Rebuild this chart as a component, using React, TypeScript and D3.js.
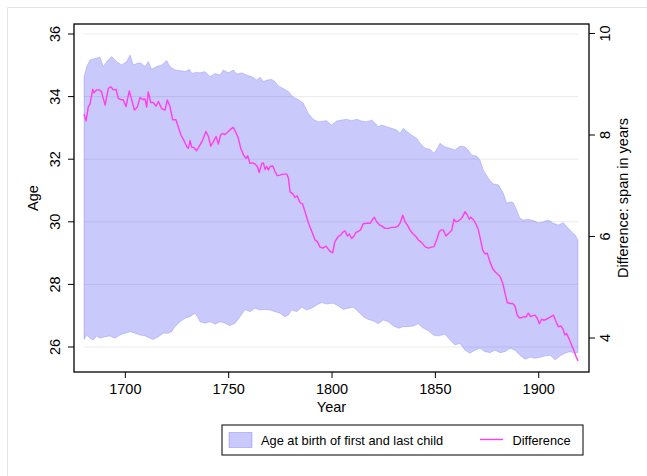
import React from "react";
import * as d3 from "d3";

const upperYears = [1680.0,1681.3,1682.9,1685.3,1687.7,1689.4,1691.0,1693.4,1695.8,1698.2,1700.6,1702.3,1703.9,1706.3,1707.9,1709.5,1711.1,1712.7,1715.2,1717.6,1720.0,1721.6,1724.0,1726.5,1728.9,1731.0,1732.1,1734.5,1736.1,1738.5,1741.0,1743.4,1745.8,1747.4,1749.8,1752.3,1753.9,1756.3,1758.7,1761.1,1763.5,1765.2,1766.8,1768.4,1770.8,1772.4,1774.0,1776.4,1778.9,1781.3,1783.7,1786.1,1788.5,1791.0,1793.4,1797.4,1799.8,1802.2,1804.7,1807.1,1809.5,1811.9,1814.3,1816.8,1819.2,1820.8,1822.4,1824.0,1826.4,1828.9,1831.3,1832.9,1834.5,1836.4,1838.5,1840.9,1842.6,1845.0,1847.4,1849.3,1851.4,1852.2,1854.6,1857.1,1859.5,1861.9,1864.3,1865.9,1867.6,1870.0,1871.6,1873.2,1875.6,1878.0,1880.5,1882.9,1884.5,1886.1,1887.7,1889.3,1890.9,1892.6,1895.0,1897.4,1899.8,1902.2,1904.6,1907.1,1909.5,1911.9,1913.5,1915.9,1917.6,1919.0];
const upperAge = [34.62,34.96,35.17,35.22,35.26,34.96,35.12,35.28,35.12,35.01,35.12,35.33,35.01,35.08,35.06,34.96,35.12,34.87,34.96,35.01,35.15,34.96,34.85,34.83,34.80,34.87,34.74,34.78,34.76,34.80,34.64,34.74,34.69,34.85,34.76,34.85,34.72,34.76,34.69,34.64,34.53,34.62,34.48,34.53,34.55,34.48,34.34,34.26,34.16,33.98,33.91,33.79,33.47,33.27,33.20,33.23,33.09,33.22,33.25,33.28,33.23,33.28,33.22,33.20,33.25,33.15,33.04,33.09,33.04,32.99,32.93,32.83,32.99,32.88,32.77,32.67,32.51,32.35,32.32,32.19,32.40,32.51,32.40,32.35,32.29,32.42,32.40,32.29,32.13,32.10,31.97,31.65,31.39,31.21,31.18,30.91,30.59,30.64,30.61,30.38,30.11,30.06,30.08,30.04,29.97,30.00,30.06,29.95,29.90,29.97,29.85,29.68,29.58,29.42];

const lowerYears = [1680.0,1681.3,1682.9,1684.5,1686.1,1687.7,1690.2,1692.6,1695.0,1697.4,1699.8,1702.3,1704.7,1707.1,1709.5,1711.9,1713.5,1716.0,1718.4,1720.8,1722.4,1724.0,1726.5,1728.9,1731.3,1733.7,1735.3,1736.1,1738.5,1741.0,1743.4,1745.8,1748.2,1750.6,1753.1,1755.5,1757.9,1760.3,1762.7,1765.2,1767.6,1770.0,1772.4,1774.8,1777.2,1778.9,1780.5,1782.9,1785.3,1787.7,1790.2,1792.6,1795.0,1797.4,1800.6,1803.0,1805.5,1807.9,1810.3,1812.7,1815.1,1817.6,1820.0,1822.4,1824.8,1827.2,1829.7,1832.1,1834.5,1836.9,1839.3,1841.7,1844.2,1846.6,1849.0,1851.4,1854.6,1857.1,1859.5,1861.9,1864.3,1866.7,1869.2,1871.6,1874.0,1876.4,1878.8,1881.3,1883.7,1886.1,1888.5,1890.9,1893.4,1895.8,1898.2,1900.6,1903.0,1905.5,1907.9,1910.3,1912.7,1915.1,1917.6,1919.0];
const lowerAge = [26.24,26.38,26.28,26.22,26.35,26.28,26.33,26.35,26.28,26.38,26.44,26.49,26.44,26.38,26.35,26.28,26.24,26.33,26.44,26.44,26.49,26.65,26.81,26.92,26.97,27.08,26.92,26.81,26.76,26.81,26.73,26.81,26.76,26.68,26.76,26.97,27.20,27.13,27.24,27.18,27.20,27.18,27.13,27.08,26.97,27.02,27.18,27.13,27.27,27.18,27.24,27.34,27.42,27.37,27.40,27.31,27.20,27.24,27.27,27.13,26.97,26.88,26.83,26.74,26.86,26.81,26.67,26.60,26.65,26.65,26.67,26.74,26.60,26.52,26.38,26.35,26.41,26.22,26.06,26.12,25.90,25.80,25.90,25.96,25.85,25.82,25.90,25.82,25.85,25.96,25.90,25.74,25.61,25.67,25.64,25.67,25.71,25.74,25.59,25.71,25.80,25.85,25.80,25.82];

const diffYears = [1680.0,1681.0,1682.1,1682.9,1684.2,1684.8,1686.1,1687.4,1688.5,1690.2,1691.8,1692.9,1694.2,1695.5,1696.6,1697.7,1699.0,1700.3,1701.9,1703.1,1704.4,1705.8,1707.1,1708.4,1709.5,1710.3,1711.1,1712.3,1713.5,1714.8,1716.0,1717.6,1719.2,1720.3,1721.6,1722.9,1724.5,1725.6,1726.9,1728.4,1729.7,1730.5,1731.3,1732.1,1733.2,1734.5,1735.8,1737.4,1739.0,1740.2,1741.3,1742.6,1743.9,1745.0,1746.1,1747.1,1748.2,1749.3,1750.6,1752.2,1753.5,1754.7,1755.8,1757.1,1758.4,1759.2,1760.3,1761.6,1762.7,1763.9,1764.8,1766.0,1766.8,1767.6,1768.4,1769.2,1770.0,1771.3,1772.4,1773.5,1774.8,1776.4,1778.1,1778.9,1779.7,1781.0,1782.1,1783.2,1784.5,1785.8,1786.9,1788.1,1789.3,1790.6,1791.8,1792.9,1794.2,1795.5,1797.1,1798.2,1799.3,1800.3,1801.4,1803.0,1804.2,1805.1,1806.3,1807.4,1808.4,1809.5,1810.6,1811.6,1812.7,1813.8,1815.1,1816.8,1818.4,1819.7,1820.5,1821.6,1822.9,1824.0,1825.6,1827.2,1828.9,1830.5,1832.1,1833.2,1834.2,1835.3,1836.4,1837.7,1839.0,1840.6,1841.8,1843.4,1845.0,1846.6,1848.2,1849.3,1850.6,1851.9,1853.0,1853.8,1855.1,1856.3,1857.9,1859.0,1860.0,1861.1,1862.2,1863.2,1864.3,1865.5,1866.4,1867.2,1868.4,1869.6,1870.8,1871.9,1872.9,1874.0,1875.1,1876.4,1877.7,1878.8,1880.0,1881.3,1882.6,1883.7,1884.8,1886.1,1887.4,1888.5,1889.6,1890.6,1891.7,1892.9,1893.8,1895.0,1896.1,1897.1,1898.2,1899.3,1900.3,1901.4,1902.5,1903.8,1905.5,1907.1,1908.4,1909.5,1910.6,1911.6,1912.7,1913.5,1914.8,1915.9,1917.1,1918.0,1919.0];
const diffValues = [8.41,8.28,8.56,8.61,8.90,8.83,8.89,8.89,8.85,8.59,8.92,8.95,8.89,8.90,8.72,8.70,8.69,8.56,8.87,8.69,8.49,8.55,8.74,8.70,8.71,8.55,8.85,8.64,8.64,8.57,8.66,8.52,8.49,8.69,8.56,8.30,8.30,8.16,8.00,7.89,7.77,7.74,7.89,7.76,7.75,7.69,7.78,7.90,8.07,7.97,7.78,7.87,7.97,7.82,8.00,8.03,8.01,8.05,8.10,8.15,8.05,7.93,7.74,7.61,7.54,7.59,7.44,7.45,7.43,7.38,7.26,7.44,7.45,7.32,7.38,7.31,7.38,7.39,7.28,7.20,7.21,7.23,7.23,7.15,6.88,6.84,6.77,6.80,6.67,6.64,6.49,6.33,6.19,6.06,5.93,5.90,5.79,5.77,5.81,5.75,5.70,5.68,5.90,6.00,6.03,6.08,6.11,6.01,6.05,5.96,6.01,6.08,6.10,6.13,6.25,6.26,6.26,6.34,6.38,6.29,6.23,6.21,6.16,6.16,6.18,6.18,6.21,6.29,6.42,6.29,6.23,6.13,6.06,6.00,5.93,5.88,5.80,5.77,5.79,5.80,5.93,6.10,6.13,6.13,6.01,6.06,6.12,6.34,6.29,6.31,6.34,6.39,6.49,6.42,6.34,6.38,6.33,6.25,6.13,5.93,5.73,5.66,5.67,5.50,5.37,5.31,5.26,5.21,5.08,4.88,4.70,4.68,4.68,4.63,4.45,4.40,4.40,4.42,4.41,4.49,4.42,4.44,4.45,4.39,4.28,4.37,4.35,4.37,4.41,4.45,4.32,4.22,4.24,4.19,4.06,4.09,3.97,3.86,3.75,3.64,3.55];

const yearTicks = [1700, 1750, 1800, 1850, 1900];
const ageTicks = [26, 28, 30, 32, 34, 36];
const diffTicks = [4, 6, 8, 10];

const FONT = "'Liberation Sans', Arial, Helvetica, sans-serif";
const BAND_FILL = "rgba(0,0,240,0.21)";
const BAND_STROKE = "rgba(40,40,240,0.30)";
const LINE_COLOR = "#ff3cf0";

export default function App() {
  const W = 647, H = 476;
  const plot = { left: 74, top: 24, right: 589, bottom: 372 };
  const x = d3.scaleLinear().domain([1680, 1919]).range([84, 578]);
  const yAge = d3.scaleLinear().domain([26, 36]).range([347, 34]);
  const yDiff = d3.scaleLinear().domain([4, 10]).range([338, 33.5]);

  const upperPts: [number, number][] = upperYears.map((yr, i) => [x(yr), yAge(upperAge[i])]);
  const lowerPts: [number, number][] = lowerYears.map((yr, i) => [x(yr), yAge(lowerAge[i])]).reverse() as [number, number][];
  const bandPath = (d3.line()([...upperPts, ...lowerPts]) || "") + "Z";
  const diffPath = d3.line<number>()
    .x((_, i) => x(diffYears[i]))
    .y((d) => yDiff(d))(diffValues) || "";

  const cy = (plot.top + plot.bottom) / 2;
  const cx = (plot.left + plot.right) / 2;

  return (
    <svg width={W} height={H} style={{ position: "absolute", left: 0, top: 0, background: "#fff" }} fontFamily={FONT}>
      <rect x={0} y={0} width={W} height={H} fill="#fff" />
      {/* outer graph frame */}
      <line x1={7.5} y1={7.5} x2={W} y2={7.5} stroke="#e4e4e4" strokeWidth={1} />
      <line x1={7.5} y1={7.5} x2={7.5} y2={H} stroke="#e4e4e4" strokeWidth={1} />

      {/* grid */}
      {ageTicks.map((t) => (
        <line key={"g" + t} x1={x(1680)} x2={x(1919)} y1={yAge(t)} y2={yAge(t)} stroke="#ebebeb" strokeWidth={1} />
      ))}

      {/* band */}
      <path d={bandPath} fill={BAND_FILL} stroke={BAND_STROKE} strokeWidth={0.6} />

      {/* difference line */}
      <path d={diffPath} fill="none" stroke={LINE_COLOR} strokeWidth={1.4} strokeLinejoin="round" />

      {/* plot border */}
      <rect x={plot.left} y={plot.top} width={plot.right - plot.left} height={plot.bottom - plot.top} fill="none" stroke="#000" strokeWidth={1.3} />

      {/* left axis */}
      {ageTicks.map((t) => (
        <g key={"l" + t}>
          <line x1={plot.left - 6} x2={plot.left} y1={yAge(t)} y2={yAge(t)} stroke="#000" strokeWidth={1} />
          <text transform={`translate(${60},${yAge(t)}) rotate(-90)`} textAnchor="middle" fontSize={14.5} fill="#000">{t}</text>
        </g>
      ))}
      <text transform={`translate(${38},${cy}) rotate(-90)`} textAnchor="middle" fontSize={14.5} fill="#000">Age</text>

      {/* right axis */}
      {diffTicks.map((t) => (
        <g key={"r" + t}>
          <line x1={plot.right} x2={plot.right + 6} y1={yDiff(t)} y2={yDiff(t)} stroke="#000" strokeWidth={1} />
          <text transform={`translate(${610},${yDiff(t)}) rotate(-90)`} textAnchor="middle" fontSize={14.5} fill="#000">{t}</text>
        </g>
      ))}
      <text transform={`translate(${628},${cy}) rotate(-90)`} textAnchor="middle" fontSize={14.5} fill="#000">Difference: span in years</text>

      {/* bottom axis */}
      {yearTicks.map((t) => (
        <g key={"b" + t}>
          <line x1={x(t)} x2={x(t)} y1={plot.bottom} y2={plot.bottom + 6} stroke="#000" strokeWidth={1} />
          <text x={x(t)} y={394} textAnchor="middle" fontSize={14.5} fill="#000">{t}</text>
        </g>
      ))}
      <text x={cx} y={412} textAnchor="middle" fontSize={14.5} fill="#000">Year</text>

      {/* legend */}
      <rect x={222} y={425} width={361} height={30} fill="#fff" stroke="#000" strokeWidth={1} />
      <rect x={229} y={432.5} width={23} height={15} fill={BAND_FILL} stroke={BAND_STROKE} strokeWidth={0.8} />
      <text x={261} y={444.5} fontSize={12.8} fill="#000">Age at birth of first and last child</text>
      <line x1={480} x2={503} y1={439.5} y2={439.5} stroke={LINE_COLOR} strokeWidth={1.4} />
      <text x={512.5} y={444.5} fontSize={12.8} fill="#000">Difference</text>
    </svg>
  );
}
